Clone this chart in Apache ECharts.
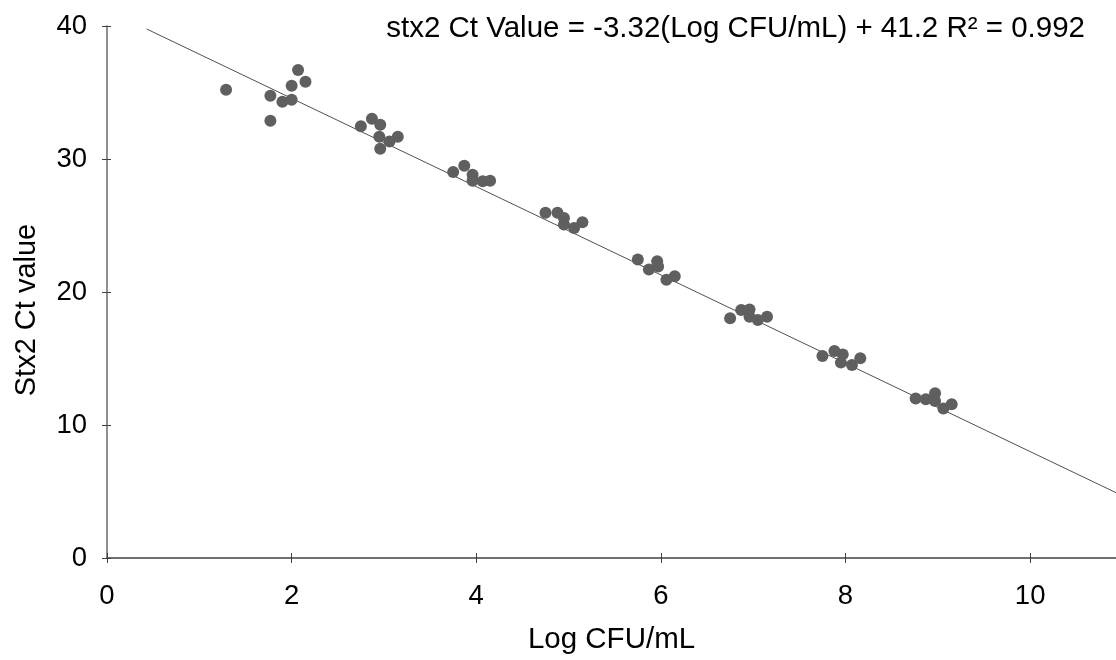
<!DOCTYPE html>
<html>
<head>
<meta charset="utf-8">
<script src="https://cdn.jsdelivr.net/npm/echarts@6/dist/echarts.min.js"></script>
<style>
html,body{margin:0;padding:0;background:#fff;}
#chart{width:1116px;height:660px;}
</style>
</head>
<body>
<div id="chart"></div>
<script>
// Measured sample points: x = Log CFU/mL, y = stx2 Ct value
const logCfu = [
  1.29, 1.77, 1.77, 1.90, 2.00, 2.00, 2.07, 2.15,
  2.75, 2.87, 2.96, 2.95, 3.06, 3.15, 2.96,
  3.75, 3.87, 3.96, 3.96, 4.07, 4.15,
  4.75, 4.88, 4.95, 4.95, 5.06, 5.15,
  5.75, 5.96, 5.87, 5.97, 6.06, 6.15,
  6.75, 6.87, 6.96, 6.96, 7.05, 7.15,
  7.75, 7.88, 7.97, 7.95, 8.07, 8.16,
  8.76, 8.87, 8.97, 8.97, 9.06, 9.15
];
const ctValues = [
  35.20, 34.75, 32.88, 34.30, 34.45, 35.50, 36.70, 35.80,
  32.46, 33.03, 32.58, 31.67, 31.32, 31.67, 30.77,
  29.03, 29.50, 28.82, 28.37, 28.32, 28.37,
  25.95, 25.95, 25.57, 25.07, 24.82, 25.24,
  22.44, 22.32, 21.69, 21.92, 20.92, 21.19,
  18.02, 18.64, 18.69, 18.14, 17.89, 18.14,
  15.19, 15.56, 15.31, 14.69, 14.51, 15.01,
  11.99, 11.94, 12.39, 11.81, 11.24, 11.56
];
// Trend line coefficients (as printed on the chart)
const slope = -3.32;
const intercept = 41.2;
const r2 = 0.992;
const trendStartX = 0.43;
const xMax = 10.93;
const xTicks = [0, 2, 4, 6, 8, 10];
const yTicks = [0, 10, 20, 30, 40];

const points = logCfu.map((x, i) => [x, ctValues[i]]);
const trend = [trendStartX, xMax].map(x => [x, slope * x + intercept]);

const font = 'Liberation Sans, Arial, sans-serif';
const chart = echarts.init(document.getElementById('chart'));
chart.setOption({
  animation: false,
  backgroundColor: '#ffffff',
  title: {
    text: 'stx2 Ct Value = ' + slope + '(Log CFU/mL) + ' + intercept + ' R² = ' + r2,
    right: 26,
    top: 9,
    textStyle: { fontFamily: font, fontSize: 29.5, fontWeight: 'normal', color: '#000' }
  },
  grid: { left: 107, right: 0, top: 26, bottom: 101, containLabel: false },
  xAxis: [{
    type: 'value', min: 0, max: xMax, interval: 2,
    name: 'Log CFU/mL', nameLocation: 'middle', nameGap: 67,
    nameTextStyle: { fontFamily: font, fontSize: 29.5, color: '#000' },
    axisLine: { lineStyle: { color: '#404040', width: 1.5 } },
    axisTick: { show: true, inside: false, length: 5, lineStyle: { color: '#404040' } },
    axisLabel: { fontFamily: font, fontSize: 27.5, color: '#000', margin: 24, showMaxLabel: false,
      formatter: v => xTicks.indexOf(v) >= 0 ? String(v) : '' },
    splitLine: { show: false }
  }, {
    type: 'value', position: 'bottom', min: 0, max: xMax, interval: 2,
    axisLine: { show: false },
    axisTick: { show: true, inside: true, length: 5, lineStyle: { color: '#404040' } },
    axisLabel: { show: false },
    splitLine: { show: false }
  }],
  yAxis: [{
    type: 'value', min: 0, max: 40, interval: 10,
    name: 'Stx2 Ct value', nameLocation: 'middle', nameGap: 66,
    nameTextStyle: { fontFamily: font, fontSize: 29, color: '#000', padding: [0, 36, 0, 0] },
    axisLine: { show: true, lineStyle: { color: '#6a6a6a', width: 1.5 } },
    axisTick: { show: true, inside: false, length: 5, lineStyle: { color: '#404040' } },
    axisLabel: { fontFamily: font, fontSize: 27.5, color: '#000', margin: 20,
      formatter: v => yTicks.indexOf(v) >= 0 ? String(v) : '' },
    splitLine: { show: false }
  }, {
    type: 'value', position: 'left', min: 0, max: 40, interval: 10,
    axisLine: { show: false },
    axisTick: { show: true, inside: true, length: 4, lineStyle: { color: '#404040' } },
    axisLabel: { show: false },
    splitLine: { show: false }
  }],
  series: [{
    type: 'line',
    data: trend,
    showSymbol: false,
    symbol: 'none',
    lineStyle: { color: '#505050', width: 1 },
    z: 1,
    silent: true
  }, {
    type: 'scatter',
    data: points,
    symbol: 'circle',
    symbolSize: 12,
    itemStyle: { color: '#5f5f5f', opacity: 1 },
    z: 2
  }]
});
</script>
</body>
</html>
